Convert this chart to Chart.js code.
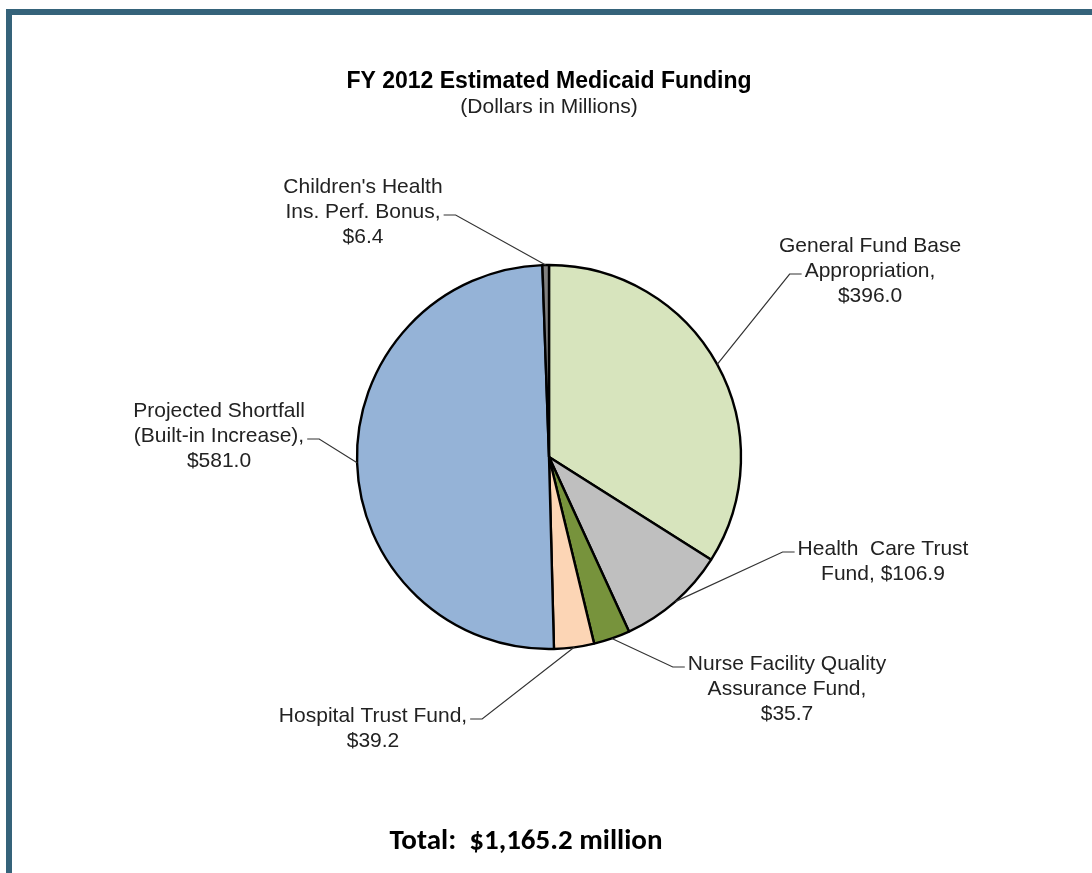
<!DOCTYPE html>
<html lang="en">
<head>
  <meta charset="UTF-8">
  <meta name="viewport" content="width=device-width, initial-scale=1.0">
  <title>FY 2012 Estimated Medicaid Funding</title>
  <script src="https://cdn.jsdelivr.net/npm/chart.js"></script>
  <style>
    body {
      margin: 0;
      background: #fff;
    }
    .page {
      position: relative;
      width: 1092px;
      height: 873px;
      overflow: hidden;
    }
    /* blue frame along the top and left edge */
    .frame {
      position: absolute;
      left: 6px;
      top: 9px;
      right: 0;
      bottom: 0;
      border-top: 6px solid #35637a;
      border-left: 6px solid #35637a;
    }
    .chart-box {
      position: absolute;
      left: 0;
      top: 0;
      width: 1092px;
      height: 873px;
    }
    .total {
      position: absolute;
      left: 0;
      width: 1052px;
      top: 821px;
      line-height: 38px;
      text-align: center;
      font: bold 29px Carlito, Lato, sans-serif;
      color: #000;
    }
  </style>
</head>
<body>
  <div class="page">
    <div class="frame"></div>
    <div class="chart-box">
      <canvas id="fundingPie"></canvas>
    </div>
    <div class="total" id="totalText"></div>
  </div>

  <script>
    // FY 2012 funding sources, dollars in millions (clockwise from 12 o'clock)
    const categories = [
      'General Fund Base Appropriation',
      'Health Care Trust Fund',
      'Nurse Facility Quality Assurance Fund',
      'Hospital Trust Fund',
      'Projected Shortfall (Built-in Increase)',
      "Children's Health Ins. Perf. Bonus"
    ];
    const amounts = [396.0, 106.9, 35.7, 39.2, 581.0, 6.4];

    // label text per slice, {v} is replaced by the dollar amount
    const labelLines = [
      ['General Fund Base', 'Appropriation,', '{v}'],
      ['Health  Care Trust', 'Fund, {v}'],
      ['Nurse Facility Quality', 'Assurance Fund,', '{v}'],
      ['Hospital Trust Fund,', '{v}'],
      ['Projected Shortfall', '(Built-in Increase),', '{v}'],
      ["Children's Health", 'Ins. Perf. Bonus,', '{v}']
    ];

    const sliceColors = ['#d7e4bd', '#bfbfbf', '#77933c', '#fcd5b5', '#95b3d7', '#808080'];

    // where each label block sits relative to the pie centre,
    // and which of its lines gets the little leader tick
    const labelLayout = [
      { dx: 321, dy: -211, tickLine: 1 },
      { dx: 334, dy: 92, tickLine: 0 },
      { dx: 238, dy: 207, tickLine: 0 },
      { dx: -176, dy: 259, tickLine: 0 },
      { dx: -330, dy: -46, tickLine: 1 },
      { dx: -186, dy: -270, tickLine: 1 }
    ];

    const LABEL_FONT = '21px "Liberation Sans", Arial, sans-serif';
    const LINE_GAP = 25;

    function money(v) {
      return '$' + v.toFixed(1);
    }

    // draws the callout labels with their leader lines
    const calloutPlugin = {
      id: 'callouts',
      afterDatasetsDraw(chart) {
        const ctx = chart.ctx;
        const arcs = chart.getDatasetMeta(0).data;
        ctx.save();
        ctx.font = LABEL_FONT;
        ctx.textAlign = 'center';
        ctx.textBaseline = 'middle';

        arcs.forEach((arc, i) => {
          const p = arc.getProps(['x', 'y', 'startAngle', 'endAngle', 'outerRadius'], true);
          const mid = (p.startAngle + p.endAngle) / 2;
          const ax = p.x + Math.cos(mid) * p.outerRadius;
          const ay = p.y + Math.sin(mid) * p.outerRadius;

          const lay = labelLayout[i];
          const cx = p.x + lay.dx;
          const cy = p.y + lay.dy;
          const lines = labelLines[i].map(s => s.replace('{v}', money(amounts[i])));

          ctx.fillStyle = '#222';
          lines.forEach((s, j) => ctx.fillText(s, cx, cy + j * LINE_GAP));

          // tick beside the chosen line, then a straight run to the slice edge
          const w = ctx.measureText(lines[lay.tickLine]).width;
          const ty = cy + lay.tickLine * LINE_GAP + 3;
          let tNear, tFar;
          if (cx > p.x) {
            tNear = cx - w / 2 - 3;
            tFar = tNear - 12;
          } else {
            tNear = cx + w / 2 + 3;
            tFar = tNear + 12;
          }
          ctx.strokeStyle = '#333';
          ctx.lineWidth = 1.2;
          ctx.beginPath();
          ctx.moveTo(tNear, ty);
          ctx.lineTo(tFar, ty);
          ctx.lineTo(ax, ay);
          ctx.stroke();
        });
        ctx.restore();
      }
    };

    const ctxPie = document.getElementById('fundingPie').getContext('2d');
    new Chart(ctxPie, {
      type: 'pie',
      data: {
        labels: categories,
        datasets: [{
          data: amounts,
          backgroundColor: sliceColors,
          borderColor: '#000',
          borderWidth: 2.4
        }]
      },
      options: {
        responsive: true,
        maintainAspectRatio: false,
        animation: false,
        radius: 192,
        layout: {
          padding: { left: 6, right: 0, top: 0, bottom: 76.5 }
        },
        plugins: {
          legend: { display: false },
          tooltip: { enabled: false },
          title: {
            display: true,
            text: 'FY 2012 Estimated Medicaid Funding',
            color: '#000',
            font: { family: '"Liberation Sans", Arial, sans-serif', size: 23, weight: 'bold', lineHeight: 1 },
            padding: { top: 70.5, bottom: 0 }
          },
          subtitle: {
            display: true,
            text: '(Dollars in Millions)',
            color: '#222',
            font: { family: '"Liberation Sans", Arial, sans-serif', size: 21, lineHeight: 1 },
            padding: { top: 3, bottom: 0 }
          }
        }
      },
      plugins: [calloutPlugin]
    });

    const total = amounts.reduce((a, b) => a + b, 0);
    document.getElementById('totalText').innerHTML =
      'Total:&nbsp; $' + total.toLocaleString('en-US', { minimumFractionDigits: 1, maximumFractionDigits: 1 }) + ' million';
  </script>
</body>
</html>
